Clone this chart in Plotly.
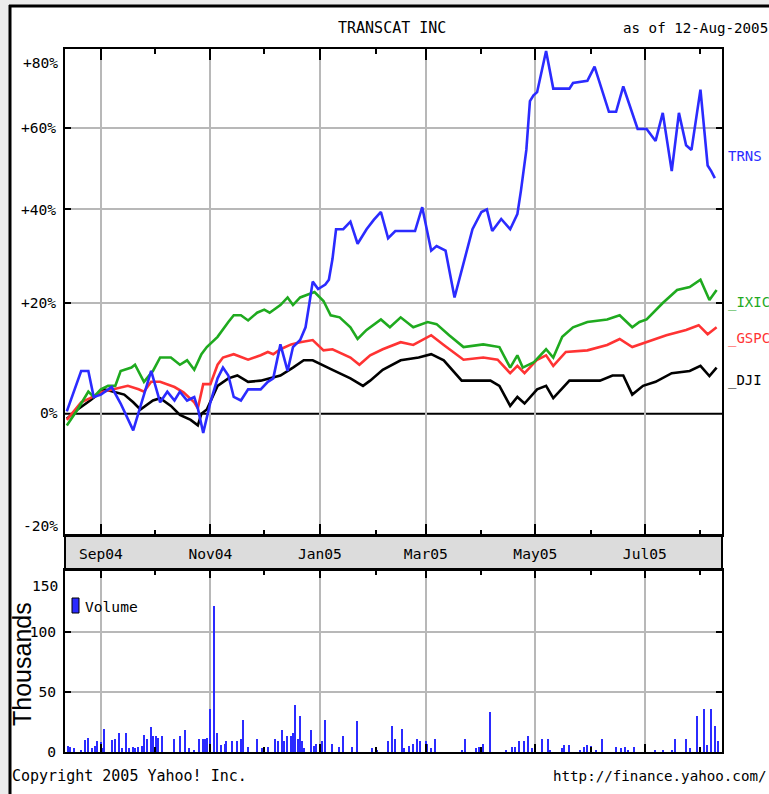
import plotly.graph_objects as go

# ---------------- data (percent change vs. start) ----------------
trns_dates = ["2004-08-13","2004-08-21","2004-08-25","2004-08-28","2004-09-01","2004-09-07","2004-09-12","2004-09-19",
              "2004-09-29","2004-10-04","2004-10-08","2004-10-12","2004-10-15","2004-10-19","2004-10-23","2004-10-25",
              "2004-10-28","2004-11-01","2004-11-05","2004-11-08","2004-11-11","2004-11-14","2004-11-18","2004-11-22",
              "2004-11-29","2004-12-03","2004-12-06","2004-12-10","2004-12-14","2004-12-17","2004-12-21","2004-12-24",
              "2004-12-26","2004-12-28","2004-12-31","2005-01-04","2005-01-06","2005-01-08","2005-01-10","2005-01-14",
              "2005-01-18","2005-01-22","2005-01-27","2005-01-31","2005-02-04","2005-02-08","2005-02-12","2005-02-23",
              "2005-02-27","2005-03-04","2005-03-07","2005-03-12","2005-03-17","2005-03-22","2005-03-27","2005-04-01",
              "2005-04-04","2005-04-07","2005-04-12","2005-04-17","2005-04-21","2005-04-23","2005-04-26","2005-04-28",
              "2005-04-30","2005-05-02","2005-05-07","2005-05-11","2005-05-20","2005-05-22","2005-05-30","2005-06-03",
              "2005-06-11","2005-06-15","2005-06-19","2005-06-27","2005-07-02","2005-07-07","2005-07-11","2005-07-16",
              "2005-07-20","2005-07-24","2005-07-27","2005-08-01","2005-08-05","2005-08-07","2005-08-09"]
trns_pct = [0.4,7.3,7.3,2.8,3.2,4.5,1.7,-2.7,7.3,1.9,3.7,2.2,3.7,2.2,2.8,0.9,-3.1,1.9,6.0,7.9,6.5,2.8,2.2,4.1,
            4.1,5.4,6.0,12.1,7.3,11.6,12.9,15.3,19.6,24.3,22.8,23.7,24.7,29.0,35.5,35.5,37.2,32.3,35.5,37.6,39.4,
            33.5,35.1,35.1,40.5,30.8,31.8,30.8,21.1,28.2,35.5,39.4,40.0,35.1,37.8,35.5,38.9,44.4,54.4,67.3,68.9,
            69.8,81.7,70.8,70.8,72.4,73.0,77.1,64.4,64.4,71.4,59.8,59.8,56.7,64.1,49.1,64.1,55.6,54.4,70.5,50.5,
            49.1,47.4]

ixic_dates = ["2004-08-13","2004-08-19","2004-08-25","2004-08-28","2004-09-01","2004-09-05","2004-09-09","2004-09-12",
              "2004-09-18","2004-09-20","2004-09-25","2004-09-30","2004-10-04","2004-10-10","2004-10-15","2004-10-19",
              "2004-10-23","2004-10-27","2004-10-30","2004-11-05","2004-11-11","2004-11-14","2004-11-18","2004-11-22",
              "2004-11-27","2004-12-01","2004-12-04","2004-12-10","2004-12-14","2004-12-17","2004-12-21","2004-12-26",
              "2004-12-29","2005-01-03","2005-01-07","2005-01-12","2005-01-18","2005-01-22","2005-01-27","2005-02-04",
              "2005-02-09","2005-02-15","2005-02-22","2005-03-02","2005-03-07","2005-03-14","2005-03-22","2005-04-02",
              "2005-04-11","2005-04-17","2005-04-21","2005-04-24","2005-04-30","2005-05-07","2005-05-11","2005-05-16",
              "2005-05-22","2005-05-30","2005-06-10","2005-06-17","2005-06-24","2005-06-28","2005-07-02","2005-07-11",
              "2005-07-19","2005-07-26","2005-08-01","2005-08-06","2005-08-10"]
ixic_pct = [-1.9,0.7,3.7,2.8,4.1,4.7,4.7,7.3,7.9,8.4,5.4,7.3,9.7,9.7,8.4,9.2,7.5,10.3,11.6,13.5,16.3,17.6,17.6,
            16.6,18.1,18.7,18.1,19.6,21.1,19.6,21.1,21.7,22.2,20.4,17.6,17.2,15.3,13.1,14.8,16.8,15.3,17.2,15.3,
            16.3,15.9,13.8,11.6,12.1,11.6,7.9,10.1,7.9,8.8,11.2,9.7,13.5,15.3,16.3,16.8,17.6,15.3,16.3,16.8,20.0,
            22.6,23.2,24.7,20.6,22.6]

gspc_dates = ["2004-08-13","2004-08-21","2004-08-26","2004-09-01","2004-09-08","2004-09-16","2004-09-22","2004-09-25",
              "2004-09-29","2004-10-04","2004-10-12","2004-10-17","2004-10-23","2004-10-25","2004-10-28","2004-11-01",
              "2004-11-05","2004-11-08","2004-11-14","2004-11-22","2004-11-29","2004-12-03","2004-12-06","2004-12-10",
              "2004-12-16","2004-12-21","2004-12-28","2005-01-03","2005-01-08","2005-01-18","2005-01-23","2005-01-29",
              "2005-02-05","2005-02-15","2005-02-22","2005-02-27","2005-03-04","2005-03-11","2005-03-22","2005-04-02",
              "2005-04-10","2005-04-17","2005-04-21","2005-04-25","2005-05-02","2005-05-07","2005-05-11","2005-05-18",
              "2005-05-30","2005-06-10","2005-06-17","2005-06-24","2005-07-02","2005-07-13","2005-07-24","2005-07-31",
              "2005-08-05","2005-08-10"]
gspc_pct = [-1.0,1.9,2.6,3.6,4.1,4.7,4.1,3.7,5.4,5.4,4.5,3.6,1.9,0.9,5.0,5.0,8.4,9.7,10.3,9.3,10.1,10.7,10.3,11.2,
            12.1,12.5,12.9,11.0,11.2,9.7,8.4,10.1,11.2,12.5,12.0,12.9,13.8,12.0,9.3,9.7,9.3,6.9,8.2,6.9,9.3,10.1,
            8.2,10.7,11.0,12.0,13.1,11.6,12.5,13.8,14.8,15.7,14.0,15.3]

dji_dates = ["2004-08-13","2004-08-19","2004-08-26","2004-09-03","2004-09-08","2004-09-14","2004-09-19","2004-09-23",
             "2004-09-30","2004-10-04","2004-10-10","2004-10-15","2004-10-21","2004-10-25","2004-10-27","2004-10-30",
             "2004-11-05","2004-11-11","2004-11-16","2004-11-22","2004-11-29","2004-12-04","2004-12-10","2004-12-17",
             "2004-12-23","2004-12-28","2005-01-03","2005-01-08","2005-01-18","2005-01-25","2005-01-29","2005-02-05",
             "2005-02-15","2005-02-25","2005-03-04","2005-03-11","2005-03-21","2005-04-06","2005-04-11","2005-04-17",
             "2005-04-21","2005-04-25","2005-05-02","2005-05-07","2005-05-11","2005-05-20","2005-06-06","2005-06-13",
             "2005-06-19","2005-06-24","2005-06-30","2005-07-07","2005-07-16","2005-07-26","2005-08-01","2005-08-06",
             "2005-08-10"]
dji_pct = [-0.8,0.7,2.2,4.1,3.7,3.2,1.9,0.7,2.2,2.6,1.3,-0.2,-1.0,-1.9,0.0,0.7,4.7,6.0,6.5,5.4,5.6,6.0,6.5,7.9,
           9.2,9.2,8.2,7.5,6.0,4.7,5.6,7.5,9.2,9.7,10.3,9.2,5.6,5.6,4.7,1.3,2.8,1.7,4.1,4.7,2.6,5.6,5.6,6.5,6.5,
           3.2,4.7,5.4,6.9,7.3,8.2,6.4,7.9]

vol_dates = ["2004-08-14","2004-08-15","2004-08-17","2004-08-21","2004-08-23","2004-08-25","2004-08-27","2004-08-29",
             "2004-08-30","2004-09-01","2004-09-02","2004-09-03","2004-09-07","2004-09-09","2004-09-11","2004-09-13",
             "2004-09-15","2004-09-17","2004-09-19","2004-09-20","2004-09-22","2004-09-24","2004-09-25","2004-09-27",
             "2004-09-29","2004-09-30","2004-10-02","2004-10-03","2004-10-05","2004-10-12","2004-10-15","2004-10-18",
             "2004-10-20","2004-10-23","2004-10-26","2004-10-28","2004-10-29","2004-10-30","2004-11-01","2004-11-03",
             "2004-11-05","2004-11-07","2004-11-09","2004-11-10","2004-11-13","2004-11-16","2004-11-18","2004-11-19",
             "2004-11-22","2004-11-27","2004-11-30","2004-12-03","2004-12-07","2004-12-09","2004-12-11","2004-12-12",
             "2004-12-14","2004-12-16","2004-12-17","2004-12-18","2004-12-20","2004-12-21","2004-12-22","2004-12-23",
             "2004-12-27","2004-12-29","2004-12-30","2005-01-02","2005-01-04","2005-01-08","2005-01-12","2005-01-14",
             "2005-01-19","2005-01-22","2005-01-30","2005-02-02","2005-02-08","2005-02-10","2005-02-12","2005-02-16",
             "2005-02-17","2005-02-20","2005-02-22","2005-02-24","2005-02-26","2005-03-01","2005-03-02","2005-03-04",
             "2005-03-06","2005-03-21","2005-03-23","2005-03-29","2005-03-31","2005-04-02","2005-04-06","2005-04-15",
             "2005-04-18","2005-04-20","2005-04-22","2005-04-25","2005-04-27","2005-04-29","2005-05-05","2005-05-08",
             "2005-05-09","2005-05-16","2005-05-17","2005-05-20","2005-05-26","2005-05-28","2005-05-30","2005-06-01",
             "2005-06-04","2005-06-07","2005-06-15","2005-06-18","2005-06-20","2005-06-22","2005-06-25","2005-07-07",
             "2005-07-11","2005-07-16","2005-07-18","2005-07-24","2005-07-26","2005-07-30","2005-08-01","2005-08-03",
             "2005-08-05","2005-08-07","2005-08-09","2005-08-11"]
vol_thousands = [5,4,3,2,10,12,3,5,9,8,3,19,10,11,16,3,16,3,4,3,4,5,14,11,21,13,13,12,13,11,13,18,3,2,11,11,11,12,
                 36,122,16,6,7,9,9,9,11,27,4,11,3,4,11,9,18,9,13,13,16,39,11,30,9,3,18,5,7,9,27,7,4,13,4,26,3,2,9,
                 22,11,19,3,5,7,11,9,9,7,3,11,2,11,3,4,7,33,2,4,4,9,9,13,3,11,11,2,3,6,6,2,4,6,5,2,11,4,3,4,2,4,2,
                 1,2,11,11,3,30,3,36,6,36,22,9]

x_range = ["2004-08-12", "2005-08-13"]
grid_pct = [20, 40, 60]
grid_labels = ["+20%", "+40%", "+60%"]
vol_ticks = [0, 50, 100]

# ---------------- styling ----------------
MONO = "DejaVu Sans Mono"
FS = 14.6
BLUE, GREEN, RED, BLACK = "#2b2bff", "#1faa1f", "#ff3333", "#000000"
GRID = "#b8b8b8"

W, H = 769, 794
L, R, T, B = 65, 722, 49, 752
def px(x):
    return (x - L) / (R - L)
def py(y):
    return (B - y) / (B - T)

def ratio(p):
    return [1 + v / 100.0 for v in p]

fig = go.Figure()
for name, d, v, c in [("DJI", dji_dates, dji_pct, BLACK),
                      ("GSPC", gspc_dates, gspc_pct, RED),
                      ("IXIC", ixic_dates, ixic_pct, GREEN),
                      ("TRNS", trns_dates, trns_pct, BLUE)]:
    fig.add_trace(go.Scatter(x=d, y=ratio(v), mode="lines", name=name,
                             line=dict(color=c, width=2.6), xaxis="x", yaxis="y",
                             showlegend=False))

fig.add_trace(go.Bar(x=vol_dates, y=vol_thousands, name="Volume", marker=dict(color=BLUE, line=dict(width=0)),
                     width=0.75 * 86400000, xaxis="x2", yaxis="y2", showlegend=False))

axis_common = dict(showline=True, linecolor="black", linewidth=2, mirror="ticks",
                   ticks="inside", tickcolor="black", tickwidth=2,
                   showgrid=True, gridcolor=GRID, gridwidth=2, zeroline=False)

fig.update_layout(
    width=W, height=H,
    margin=dict(l=L, r=W - R, t=T, b=H - B),
    paper_bgcolor="#ececec", plot_bgcolor="white",
    font=dict(family=MONO, size=FS, color="black"),
    xaxis=dict(domain=[0, 1], anchor="y", type="date", range=x_range, dtick="M2", tick0="2004-09-01",
               tickformat="%b%y", ticklen=11, ticklabelstandoff=4, tickfont=dict(family=MONO, size=FS),
               minor=dict(dtick="M1", tick0="2004-09-01", ticks="inside", ticklen=5, tickwidth=2,
                          tickcolor="black", showgrid=False),
               **axis_common),
    xaxis2=dict(domain=[0, 1], anchor="y2", type="date", matches="x", dtick="M2", tick0="2004-09-01",
                ticklen=8, showticklabels=False,
                minor=dict(dtick="M1", tick0="2004-09-01", ticks="inside", ticklen=5, tickwidth=2,
                           tickcolor="black", showgrid=False),
                **axis_common),
    yaxis=dict(domain=[py(535), 1], anchor="x", type="log", range=[-0.0867, 0.2608],
               tickvals=ratio(grid_pct), ticktext=grid_labels, ticklen=6, ticklabelstandoff=4,
               tickfont=dict(family=MONO, size=FS), **axis_common),
    yaxis2=dict(domain=[0, py(570)], anchor="x2", range=[0, 151.7], tickvals=vol_ticks,
                ticklen=6, ticklabelstandoff=4, tickfont=dict(family=MONO, size=FS),
                **axis_common),
    bargap=0,
)

shapes = [
    # white page inside the outer frame
    dict(type="rect", xref="paper", yref="paper", x0=px(10), x1=px(790), y0=py(6), y1=py(820),
         fillcolor="white", line=dict(width=0), layer="below"),
    # date band between the panels
    dict(type="rect", xref="paper", yref="paper", x0=0, x1=1, y0=py(570), y1=py(535),
         fillcolor="#dcdcdc", line=dict(color="black", width=2), layer="below"),
    dict(type="line", xref="paper", yref="paper", x0=px(10), x1=px(10), y0=py(5), y1=py(820),
         line=dict(color="black", width=3)),
    dict(type="line", xref="paper", yref="paper", x0=px(9), x1=px(790), y0=py(6), y1=py(6),
         line=dict(color="black", width=3)),
    # 0% reference line
    dict(type="line", xref="paper", yref="y", x0=0, x1=1, y0=1.0, y1=1.0,
         line=dict(color="black", width=2), layer="below"),
    # volume legend swatch
    dict(type="rect", xref="paper", yref="paper", x0=px(72), x1=px(79), y0=py(613), y1=py(598),
         fillcolor=BLUE, line=dict(color="black", width=1)),
]
fig.update_layout(shapes=shapes)

ann = []
def text(t, x, y, xa="left", color="black", size=FS, family=MONO, angle=0):
    ann.append(dict(text=t, x=x, y=y, xref="paper", yref="paper", xanchor=xa, yanchor="middle",
                    showarrow=False, textangle=angle, font=dict(family=family, size=size, color=color)))

text("TRANSCAT INC", px(392), py(28), xa="center", size=15)
text("as of 12-Aug-2005", px(621), py(28), size=14.2)
text("+80%", px(60), py(63), xa="right")
text("0%", px(60), py(412), xa="right")
text("-20%", px(60), py(525), xa="right")
text("150", px(60), py(585), xa="right")
text("Thousands", px(22), py(664), xa="center", size=25, family="Liberation Sans", angle=-90)
text("TRNS", px(726), py(156), color=BLUE, size=14)
text("_IXIC", px(726), py(302), color=GREEN, size=14)
text("_GSPC", px(726), py(338), color=RED, size=14)
text("_DJI", px(726), py(380), color=BLACK, size=14)
text("Volume", px(83), py(606))
text("Copyright 2005 Yahoo! Inc.", px(10), py(776), size=15)
text("http://finance.yahoo.com/", px(551), py(776), size=14.2)
fig.update_layout(annotations=ann)

fig.write_html("out.html", config={"displayModeBar": False},
               post_script="document.body.style.margin='0';document.body.style.overflow='hidden';")
